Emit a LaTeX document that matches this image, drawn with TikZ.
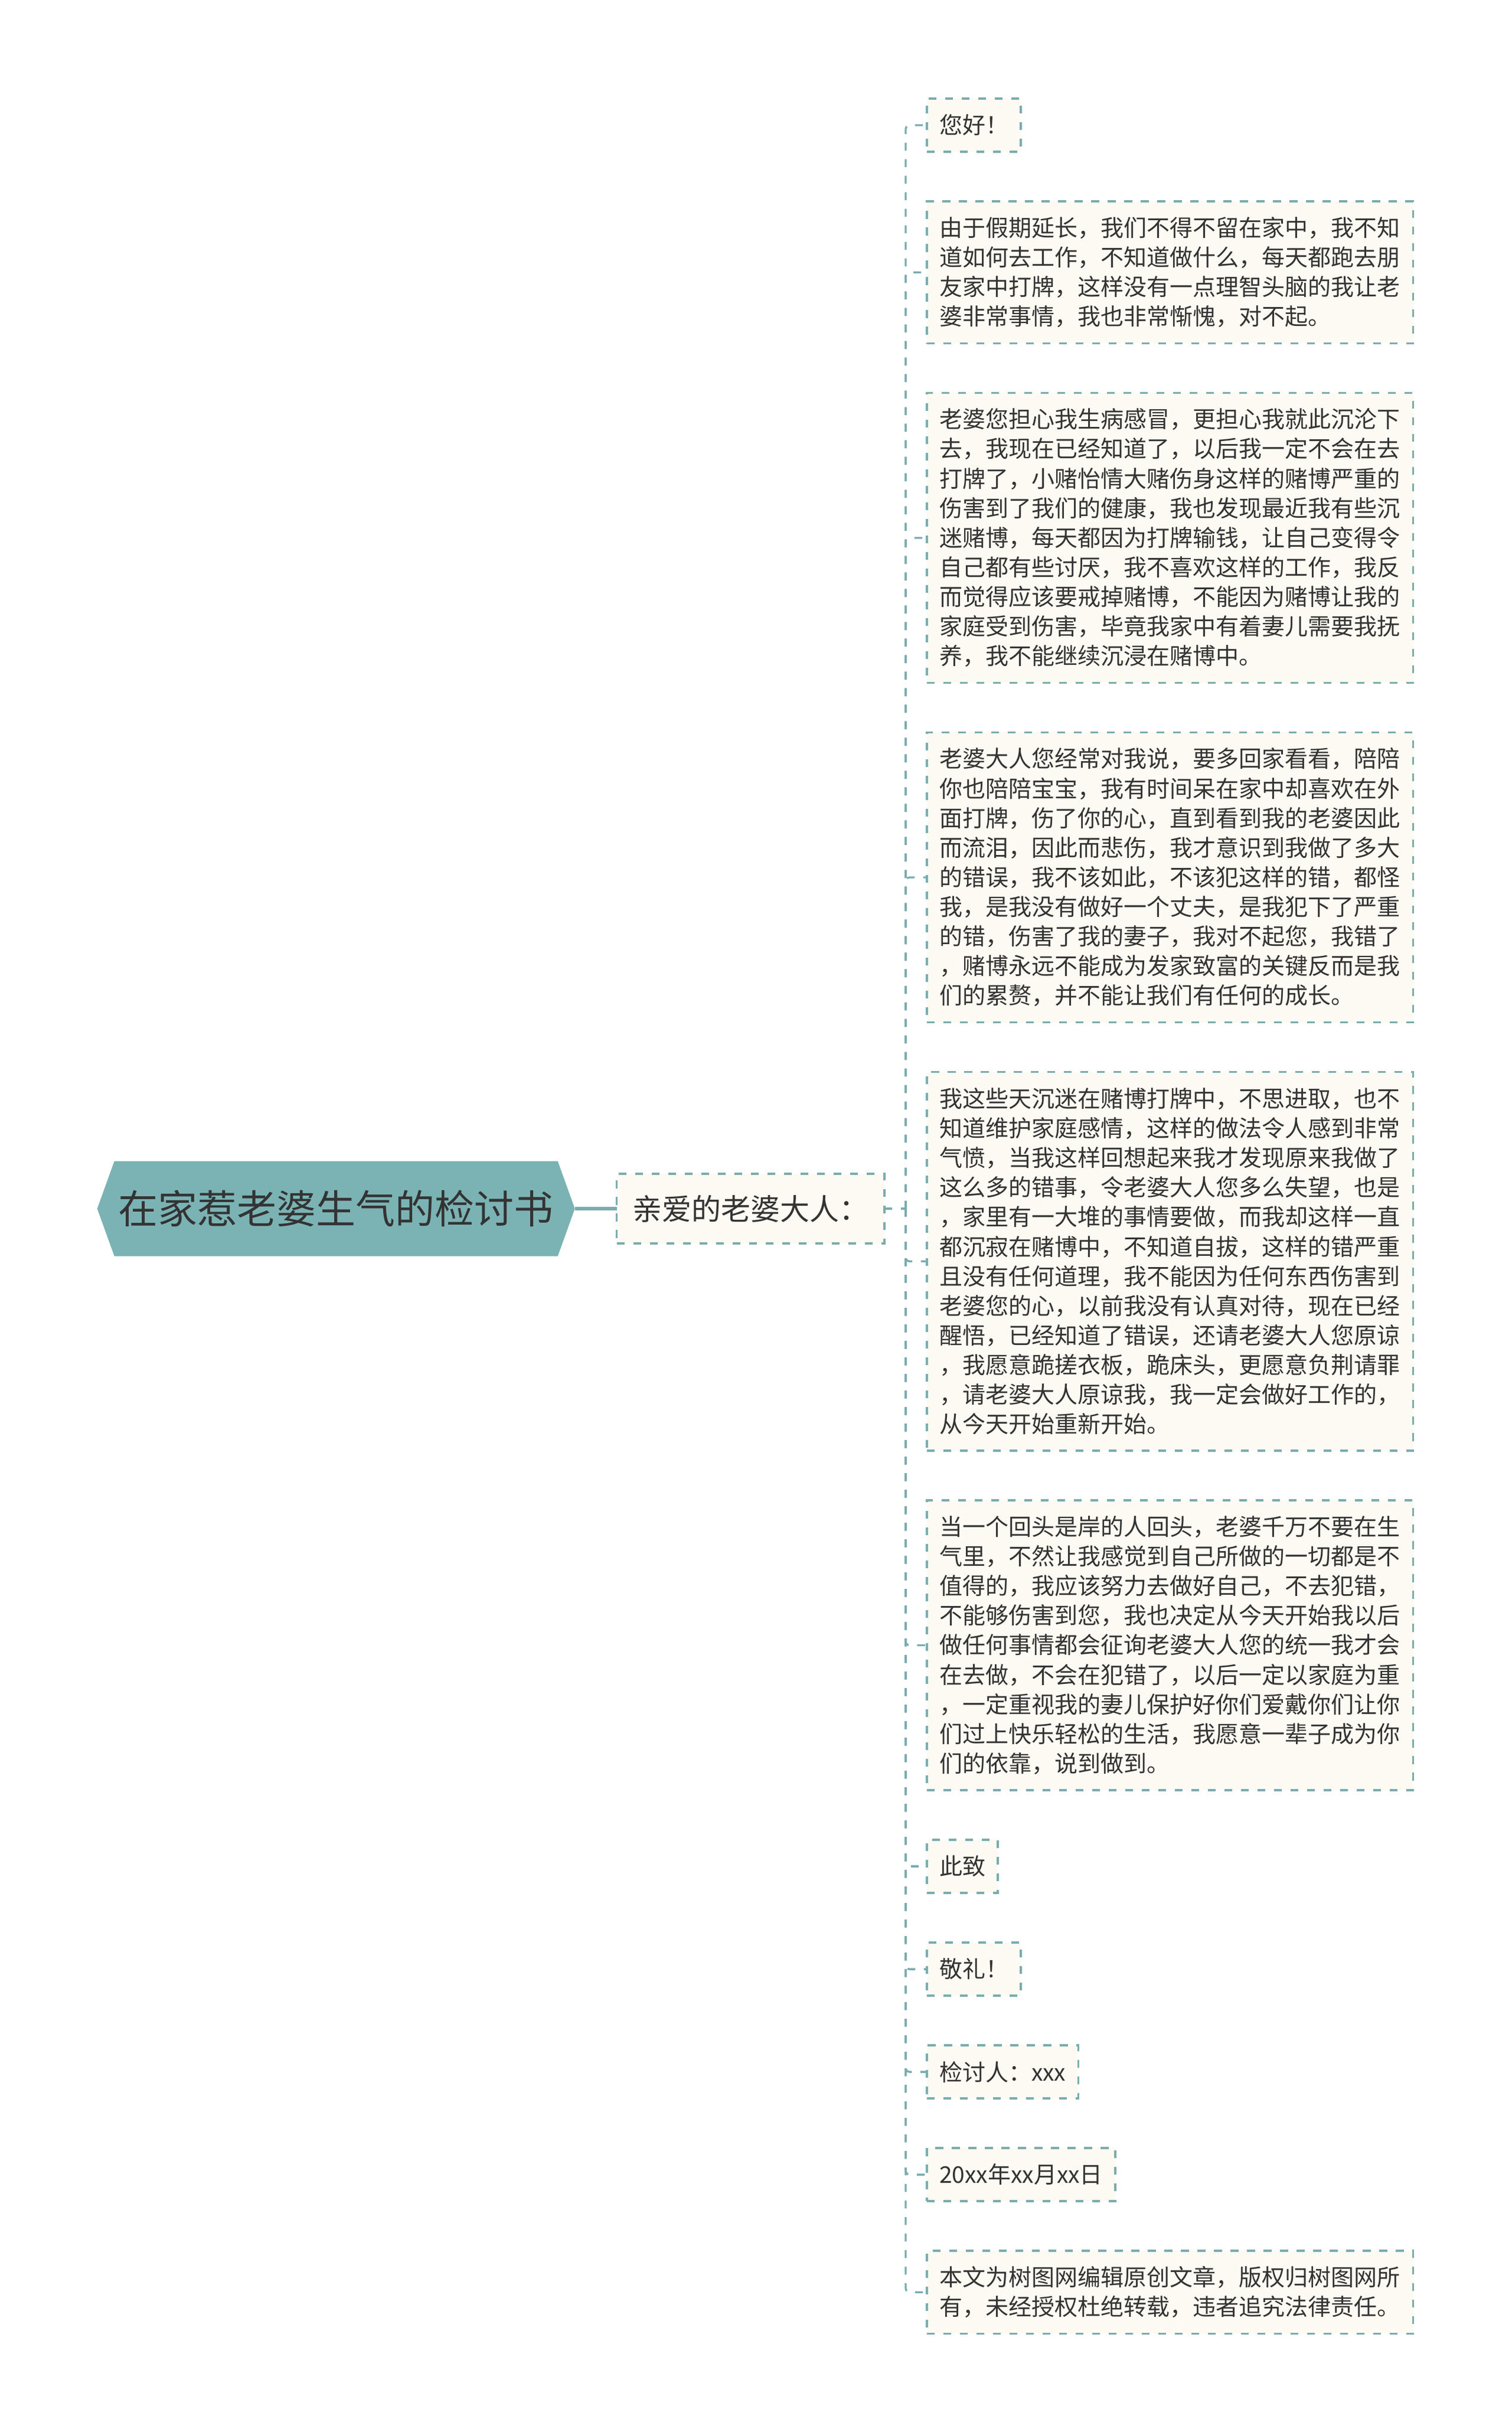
\documentclass[tikz,border=0pt]{standalone}
\usepackage{fontspec}
\setmainfont{Noto Sans CJK SC}
\usetikzlibrary{positioning}
\usetikzlibrary{calc}
\usetikzlibrary{backgrounds}
\definecolor{mapteal}{HTML}{7AACAE}
\definecolor{rootteal}{HTML}{7BB3B4}
\definecolor{papercream}{HTML}{FCFAF2}
\definecolor{inkgray}{HTML}{333333}
\tikzset{
	every node/.style={align=left,outer sep=0pt},
	rootbox/.style={text=inkgray, font=\fontsize{20.1}{24}\selectfont, minimum width=242.7pt, minimum height=48.3pt, inner sep=0pt},
	branch/.style={draw=mapteal, fill=papercream, dash pattern=on 4pt off 4.4pt, line width=1pt, text=inkgray, font=\fontsize{15}{18}\selectfont, inner xsep=8pt, inner ysep=2pt, minimum width=135.9pt, minimum height=35.4pt},
	leaf/.style={draw=mapteal, fill=papercream, dash pattern=on 4pt off 4.4pt, line width=1pt, text=inkgray, font=\fontsize{11.7}{15.04}\selectfont, inner xsep=6.3pt, inner ysep=2pt, minimum height=27pt},
	longleaf/.style={leaf, text width=234.5pt, minimum height={27pt+(#1-1)*15.04pt}},
	twig/.style={draw=mapteal, line width=1pt, dash pattern=on 4pt off 4.4pt, rounded corners=2pt},
	trunk/.style={draw=mapteal, line width=2pt}
}

\begin{document}
\begin{tikzpicture}
	\useasboundingbox (0,0) rectangle (768pt,-1235.7pt);
	% letter paragraphs, top to bottom
	\node (l1) [leaf, anchor=north west] at (471pt,-50.1pt) {您好！};
	\node (l2) [longleaf=4, below=25.2pt of l1.south west, anchor=north west] {由于假期延长，我们不得不留在家中，我不知\\道如何去工作，不知道做什么，每天都跑去朋\\友家中打牌，这样没有一点理智头脑的我让老\\婆非常事情，我也非常惭愧，对不起。};
	\node (l3) [longleaf=9, below=25.2pt of l2.south west, anchor=north west] {老婆您担心我生病感冒，更担心我就此沉沦下\\去，我现在已经知道了，以后我一定不会在去\\打牌了，小赌怡情大赌伤身这样的赌博严重的\\伤害到了我们的健康，我也发现最近我有些沉\\迷赌博，每天都因为打牌输钱，让自己变得令\\自己都有些讨厌，我不喜欢这样的工作，我反\\而觉得应该要戒掉赌博，不能因为赌博让我的\\家庭受到伤害，毕竟我家中有着妻儿需要我抚\\养，我不能继续沉浸在赌博中。};
	\node (l4) [longleaf=9, below=25.2pt of l3.south west, anchor=north west] {老婆大人您经常对我说，要多回家看看，陪陪\\你也陪陪宝宝，我有时间呆在家中却喜欢在外\\面打牌，伤了你的心，直到看到我的老婆因此\\而流泪，因此而悲伤，我才意识到我做了多大\\的错误，我不该如此，不该犯这样的错，都怪\\我，是我没有做好一个丈夫，是我犯下了严重\\的错，伤害了我的妻子，我对不起您，我错了\\，赌博永远不能成为发家致富的关键反而是我\\们的累赘，并不能让我们有任何的成长。};
	\node (l5) [longleaf=12, below=25.2pt of l4.south west, anchor=north west] {我这些天沉迷在赌博打牌中，不思进取，也不\\知道维护家庭感情，这样的做法令人感到非常\\气愤，当我这样回想起来我才发现原来我做了\\这么多的错事，令老婆大人您多么失望，也是\\，家里有一大堆的事情要做，而我却这样一直\\都沉寂在赌博中，不知道自拔，这样的错严重\\且没有任何道理，我不能因为任何东西伤害到\\老婆您的心，以前我没有认真对待，现在已经\\醒悟，已经知道了错误，还请老婆大人您原谅\\，我愿意跪搓衣板，跪床头，更愿意负荆请罪\\，请老婆大人原谅我，我一定会做好工作的，\\从今天开始重新开始。};
	\node (l6) [longleaf=9, below=25.2pt of l5.south west, anchor=north west] {当一个回头是岸的人回头，老婆千万不要在生\\气里，不然让我感觉到自己所做的一切都是不\\值得的，我应该努力去做好自己，不去犯错，\\不能够伤害到您，我也决定从今天开始我以后\\做任何事情都会征询老婆大人您的统一我才会\\在去做，不会在犯错了，以后一定以家庭为重\\，一定重视我的妻儿保护好你们爱戴你们让你\\们过上快乐轻松的生活，我愿意一辈子成为你\\们的依靠，说到做到。};
	\node (l7) [leaf, below=25.2pt of l6.south west, anchor=north west] {此致};
	\node (l8) [leaf, below=25.2pt of l7.south west, anchor=north west] {敬礼！};
	\node (l9) [leaf, below=25.2pt of l8.south west, anchor=north west] {检讨人：xxx};
	\node (l10) [leaf, below=25.2pt of l9.south west, anchor=north west] {20xx年xx月xx日};
	\node (l11) [longleaf=2, below=25.2pt of l10.south west, anchor=north west] {本文为树图网编辑原创文章，版权归树图网所\\有，未经授权杜绝转载，违者追究法律责任。};

	\coordinate (spine) at ($(l1.west)!0.5!(l11.west) + (-10.8pt,0)$);
	\node (dear) [branch, left=10.8pt of spine] {亲爱的老婆大人：};
	\node (root) [rootbox, left=21.3pt of dear] {在家惹老婆生气的检讨书};
	\begin{pgfonlayer}{background}
		\fill[rootteal] ([xshift=8.7pt]root.north west) -- ([xshift=-8.7pt]root.north east) -- (root.east) -- ([xshift=-8.7pt]root.south east) -- ([xshift=8.7pt]root.south west) -- (root.west) -- cycle;
	\end{pgfonlayer}

	\draw[trunk] (root.east) -- (dear.west);
	\draw[twig] (dear.east) -- (spine);
	\foreach \k in {1,...,11}
		\draw[twig] (spine) |- (l\k.west);
\end{tikzpicture}
\end{document}
